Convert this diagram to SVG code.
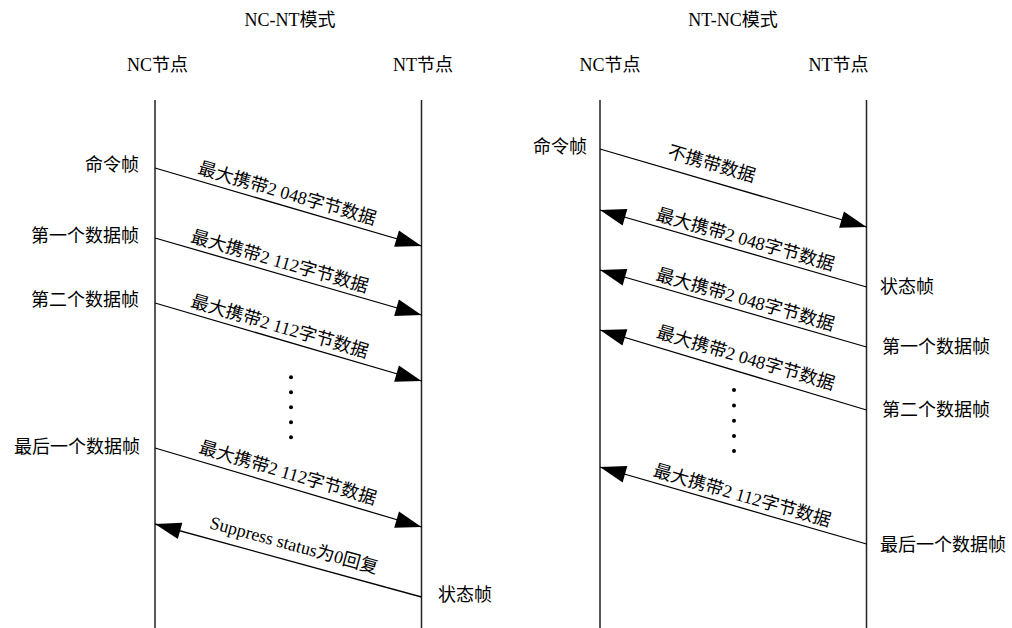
<svg xmlns="http://www.w3.org/2000/svg" width="1012" height="628" viewBox="0 0 1012 628">
<style>
text{font-family:"Liberation Serif","Noto Sans CJK SC",serif;font-size:18px;fill:#000}
.c{text-anchor:middle}
.r{text-anchor:end}
.life{stroke:#222;stroke-width:1.5;fill:none}
.msg{stroke:#000;stroke-width:1.3;fill:none;marker-end:url(#ah)}
.dot{fill:#000}
</style>
<defs>
<marker id="ah" markerUnits="userSpaceOnUse" markerWidth="28" markerHeight="18" viewBox="0 -9 28 18" refX="26" refY="0" orient="auto" overflow="visible">
<path d="M0,-8.5 L26,0 L0,8.5 z" fill="#000"/>
</marker>
</defs>
<rect width="1012" height="628" fill="#fff"/>

<g id="title-nc-nt"><text class="c" x="290" y="26">NC-NT模式</text></g>
<g id="title-nt-nc"><text class="c" x="733" y="26">NT-NC模式</text></g>

<g id="left-nc-node"><text class="c" x="157.5" y="71">NC节点</text><line class="life" x1="155" y1="100" x2="155" y2="628"/></g>
<g id="left-nt-node"><text class="c" x="423" y="71">NT节点</text><line class="life" x1="421.5" y1="100" x2="421.5" y2="628"/></g>
<g id="right-nc-node"><text class="c" x="610" y="71">NC节点</text><line class="life" x1="600" y1="100" x2="600" y2="628"/></g>
<g id="right-nt-node"><text class="c" x="838.5" y="71">NT节点</text><line class="life" x1="866.5" y1="100" x2="866.5" y2="628"/></g>

<g id="left-frame-labels">
<text class="r" x="139" y="171">命令帧</text>
<text class="r" x="139" y="242">第一个数据帧</text>
<text class="r" x="139" y="306">第二个数据帧</text>
<text class="r" x="140" y="453">最后一个数据帧</text>
<text x="438" y="601">状态帧</text>
</g>
<g id="right-frame-labels">
<text class="r" x="587" y="153">命令帧</text>
<text x="880" y="293">状态帧</text>
<text x="882" y="353">第一个数据帧</text>
<text x="882" y="416">第二个数据帧</text>
<text x="880" y="551">最后一个数据帧</text>
</g>

<g id="ellipsis-left">
<circle class="dot" cx="291" cy="377.3" r="2"/><circle class="dot" cx="291" cy="392.3" r="2"/><circle class="dot" cx="291" cy="407.3" r="2"/><circle class="dot" cx="291" cy="422.3" r="2"/><circle class="dot" cx="291" cy="437.3" r="2"/>
</g>
<g id="ellipsis-right">
<circle class="dot" cx="734" cy="390" r="2"/><circle class="dot" cx="734" cy="405.5" r="2"/><circle class="dot" cx="734" cy="420.7" r="2"/><circle class="dot" cx="734" cy="436" r="2"/><circle class="dot" cx="734" cy="451" r="2"/>
</g>

<g id="connectors">
<line class="msg" x1="155" y1="168" x2="421.5" y2="246"/>
<text class="c" y="7" transform="translate(287.5,192.5) rotate(16.3)">最大携带2 048字节数据</text>
<line class="msg" x1="155" y1="238" x2="421.5" y2="315"/>
<text class="c" y="7" transform="translate(280,260.5) rotate(16.1)">最大携带2 112字节数据</text>
<line class="msg" x1="155" y1="303" x2="421.5" y2="381"/>
<text class="c" y="7" transform="translate(280,325.5) rotate(16.3)">最大携带2 112字节数据</text>
<line class="msg" x1="155" y1="448" x2="421.5" y2="527"/>
<text class="c" y="7" transform="translate(288,472) rotate(16.5)">最大携带2 112字节数据</text>
<line class="msg" x1="421.5" y1="597" x2="155" y2="524"/>
<text class="c" y="6" transform="translate(294,545) rotate(15.3)">Suppress status为0回复</text>

<line class="msg" x1="600" y1="149" x2="866.5" y2="227"/>
<text class="c" y="7" transform="translate(712,163) rotate(16.3)">不携带数据</text>
<line class="msg" x1="866.5" y1="287" x2="600" y2="210"/>
<text class="c" y="7" transform="translate(745.5,238.5) rotate(16.1)">最大携带2 048字节数据</text>
<line class="msg" x1="866.5" y1="347" x2="600" y2="270"/>
<text class="c" y="7" transform="translate(745.5,298.5) rotate(16.1)">最大携带2 048字节数据</text>
<line class="msg" x1="866.5" y1="410" x2="600" y2="330"/>
<text class="c" y="7" transform="translate(746,357) rotate(16.6)">最大携带2 048字节数据</text>
<line class="msg" x1="866.5" y1="544" x2="600" y2="467"/>
<text class="c" y="7" transform="translate(742.5,494.5) rotate(16.1)">最大携带2 112字节数据</text>
</g>
</svg>
